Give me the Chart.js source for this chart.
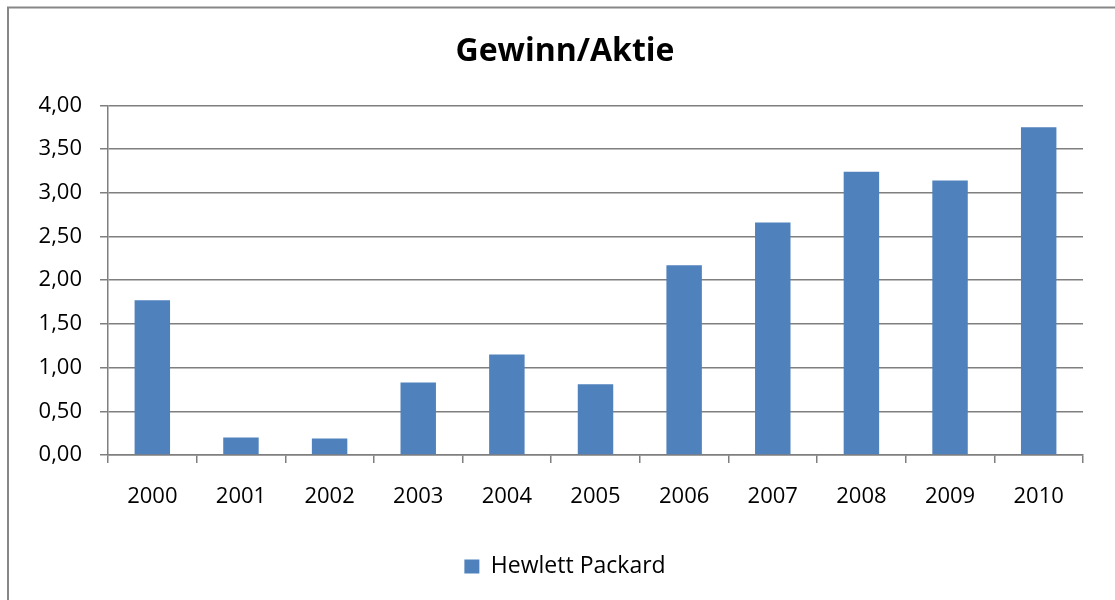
<!DOCTYPE html>
<html>
<head>
<meta charset="utf-8">
<script src="https://cdn.jsdelivr.net/npm/chart.js@4"></script>
<style>
  html, body { margin: 0; padding: 0; background: #fff; overflow: hidden; }
</style>
</head>
<body>
<canvas id="chart" width="1115" height="600"></canvas>
<script>
const years = ['2000', '2001', '2002', '2003', '2004', '2005', '2006', '2007', '2008', '2009', '2010'];
const hpValues = [1.77, 0.20, 0.19, 0.83, 1.15, 0.81, 2.17, 2.66, 3.24, 3.14, 3.75];
const seriesName = 'Hewlett Packard';
const chartTitle = 'Gewinn/Aktie';

const barColor = '#4F81BD';
const gridColor = '#7f7f7f';
const font = 'Open Sans';

// outer frame like the excel chart border (right/bottom edge is cut off)
// also nudges title + legend so they centre on the whole excel chart, not the crop
const framePlugin = {
  id: 'frame',
  beforeDraw(chart) {
    if (chart.titleBlock) chart.titleBlock.left = 47;
    if (chart.legend) chart.legend.left = 47;
    const ctx = chart.ctx;
    ctx.save();
    ctx.fillStyle = '#fff';
    ctx.fillRect(0, 0, chart.width, chart.height);
    ctx.strokeStyle = '#878787';
    ctx.lineWidth = 2;
    ctx.strokeRect(8, 7.5, chart.width + 20, chart.height + 20);
    ctx.restore();
  }
};

const ctx = document.getElementById('chart').getContext('2d');
new Chart(ctx, {
  type: 'bar',
  data: {
    labels: years,
    datasets: [{
      label: seriesName,
      data: hpValues,
      backgroundColor: barColor,
      borderWidth: 0,
      barPercentage: 0.4,
      categoryPercentage: 1.0
    }]
  },
  options: {
    responsive: false,
    animation: false,
    layout: { padding: { left: 0, right: 32, top: 0, bottom: 12 } },
    plugins: {
      title: {
        display: true,
        text: chartTitle,
        color: '#000',
        font: { family: font, size: 32, weight: 'bold' },
        padding: { top: 33, bottom: 34 }
      },
      legend: {
        position: 'bottom',
        labels: {
          color: '#000',
          font: { family: font, size: 23 },
          boxWidth: 15,
          boxHeight: 14,
          padding: 10
        }
      },
      tooltip: { enabled: false }
    },
    scales: {
      x: {
        grid: {
          offset: true,
          drawOnChartArea: false,
          drawTicks: true,
          tickLength: 8,
          color: gridColor,
          lineWidth: 1.5
        },
        border: { display: true, color: gridColor, width: 1.5 },
        ticks: {
          color: '#000',
          font: { family: font, size: 22 },
          padding: 21,
          maxRotation: 0
        },
        afterFit(scale) { scale.height = 90; }
      },
      y: {
        min: 0,
        max: 4,
        grid: {
          color: gridColor,
          tickLength: 8,
          lineWidth: 1.5
        },
        border: { display: true, color: gridColor, width: 1.5 },
        ticks: {
          stepSize: 0.5,
          color: '#000',
          font: { family: font, size: 22 },
          padding: 18,
          callback: (v) => v.toFixed(2).replace('.', ',')
        },
        afterFit(scale) { scale.width = 108; }
      }
    }
  },
  plugins: [framePlugin]
});
</script>
</body>
</html>
